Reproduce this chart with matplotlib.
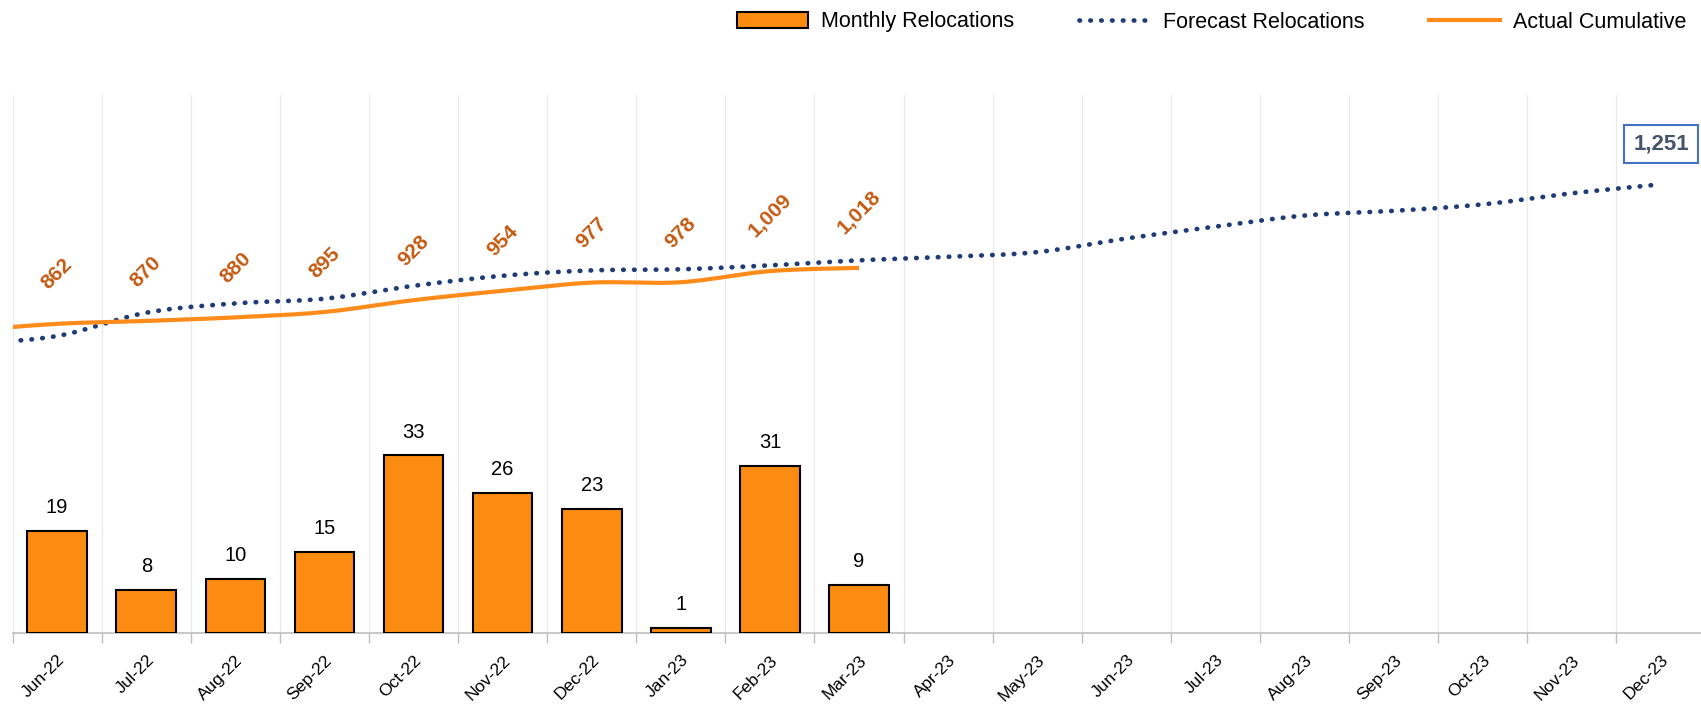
import matplotlib.pyplot as plt
import numpy as np
from matplotlib.lines import Line2D
from matplotlib.patches import Patch

plt.rcParams["font.family"] = ["Liberation Sans", "DejaVu Sans"]

months = ["Jun-22", "Jul-22", "Aug-22", "Sep-22", "Oct-22", "Nov-22", "Dec-22",
          "Jan-23", "Feb-23", "Mar-23", "Apr-23", "May-23", "Jun-23", "Jul-23",
          "Aug-23", "Sep-23", "Oct-23", "Nov-23", "Dec-23"]
monthly = [19, 8, 10, 15, 33, 26, 23, 1, 31, 9]
# cumulative totals; first value is May-22 (off the left edge of the chart)
actual_cum = [843, 862, 870, 880, 895, 928, 954, 977, 978, 1009, 1018]
forecast_cum = [806, 828, 893, 919, 932, 968, 996, 1011, 1014, 1025, 1039,
                1049, 1062, 1100, 1133, 1164, 1177, 1195, 1226, 1251]

BAR = "#FB8C11"
LINE = "#FF8C1A"
LABEL = "#C55A11"
NAVY = "#1F3C78"


def smooth(x, y, n=20):
    """Catmull-Rom curve through the points, like Excel's smoothed line."""
    x = np.asarray(x, float)
    y = np.asarray(y, float)
    px = np.concatenate([[x[0]], x, [x[-1]]])
    py = np.concatenate([[y[0]], y, [y[-1]]])
    t = np.linspace(0, 1, n, endpoint=False)[:, None]
    out_x, out_y = [], []
    for i in range(1, len(px) - 2):
        for p, out in ((px, out_x), (py, out_y)):
            p0, p1, p2, p3 = p[i - 1], p[i], p[i + 1], p[i + 2]
            seg = 0.5 * (2 * p1 + (-p0 + p2) * t + (2 * p0 - 5 * p1 + 4 * p2 - p3) * t ** 2
                         + (-p0 + 3 * p1 - 3 * p2 + p3) * t ** 3)
            out.extend(seg.ravel())
    out_x.append(x[-1])
    out_y.append(y[-1])
    return np.array(out_x), np.array(out_y)


fig = plt.figure(figsize=(17.01, 7.10), dpi=100)
ax = fig.add_axes([12.6 / 1701, 77 / 710, 19 * 89.1 / 1701, 538 / 710])
ax2 = ax.twinx()

x = np.arange(len(months))
bars = ax.bar(x[:len(monthly)], monthly, width=0.67, color=BAR, edgecolor="black",
              linewidth=1.5, zorder=3)
for b, v in zip(bars, monthly):
    ax.annotate(str(v), (b.get_x() + b.get_width() / 2, v), xytext=(0, 10),
                textcoords="offset points", ha="center", va="bottom", fontsize=14.5)

ax.set_ylim(0, 100)
ax.set_xlim(-0.5, len(months) - 0.5)
ax.set_xticks(x)
ax.set_xticklabels(months, rotation=45, ha="right", rotation_mode="anchor", fontsize=12.5)
ax.set_xticks(np.arange(-0.5, len(months)), minor=True)
ax.tick_params(axis="x", which="major", length=0, pad=14)
ax.tick_params(axis="x", which="minor", length=7, color="#BFBFBF", width=1)
ax.grid(axis="x", which="minor", color="#EBEBEB", linewidth=1, zorder=0)
ax.set_axisbelow(True)
ax.set_yticks([])
for s in ["top", "left", "right"]:
    ax.spines[s].set_visible(False)
ax.spines["bottom"].set_color("#BFBFBF")
ax.spines["bottom"].set_linewidth(1.2)

ax2.set_ylim(0, 1500)
ax2.set_yticks([])
for s in ax2.spines.values():
    s.set_visible(False)

fx, fy = smooth(np.arange(-1, len(forecast_cum) - 1), forecast_cum)
ax2.plot(fx, fy, color=NAVY, linewidth=3.4, linestyle=(0, (0.1, 2.2)),
         dash_capstyle="round", zorder=4)
axx, axy = smooth(np.arange(-1, len(actual_cum) - 1), actual_cum)
ax2.plot(axx, axy, color=LINE, linewidth=3, solid_capstyle="butt", zorder=5)
ax2.set_xlim(-0.5, len(months) - 0.5)

for i, v in enumerate(actual_cum[1:]):
    ax2.annotate(f"{v:,}", (i, v), xytext=(0, 22), textcoords="offset points",
                 ha="center", va="bottom", rotation=45, fontsize=15,
                 fontweight="bold", color=LABEL)

last = len(forecast_cum) - 2
ax2.annotate(f"{forecast_cum[-1]:,}", (last, forecast_cum[-1]), xytext=(0, 29),
             textcoords="offset points", ha="center", va="center", fontsize=16,
             fontweight="bold", color="#44546A",
             bbox=dict(boxstyle="square,pad=0.4", facecolor="white",
                       edgecolor="#4472C4", linewidth=1.5))

handles = [Patch(facecolor=BAR, edgecolor="black", linewidth=1.5),
           Line2D([], [], color=NAVY, linewidth=3.4, linestyle=(0, (0.1, 2.2)),
                  dash_capstyle="round"),
           Line2D([], [], color=LINE, linewidth=3)]
fig.legend(handles, ["Monthly Relocations", "Forecast Relocations", "Actual Cumulative"],
           loc="center right", bbox_to_anchor=(1697 / 1701, 1 - 22 / 710), ncol=3,
           frameon=False, borderpad=0, fontsize=15.5, handlelength=3.3,
           handleheight=0.75, columnspacing=3.0, handletextpad=0.6)

fig.savefig("out.png", dpi=100)
